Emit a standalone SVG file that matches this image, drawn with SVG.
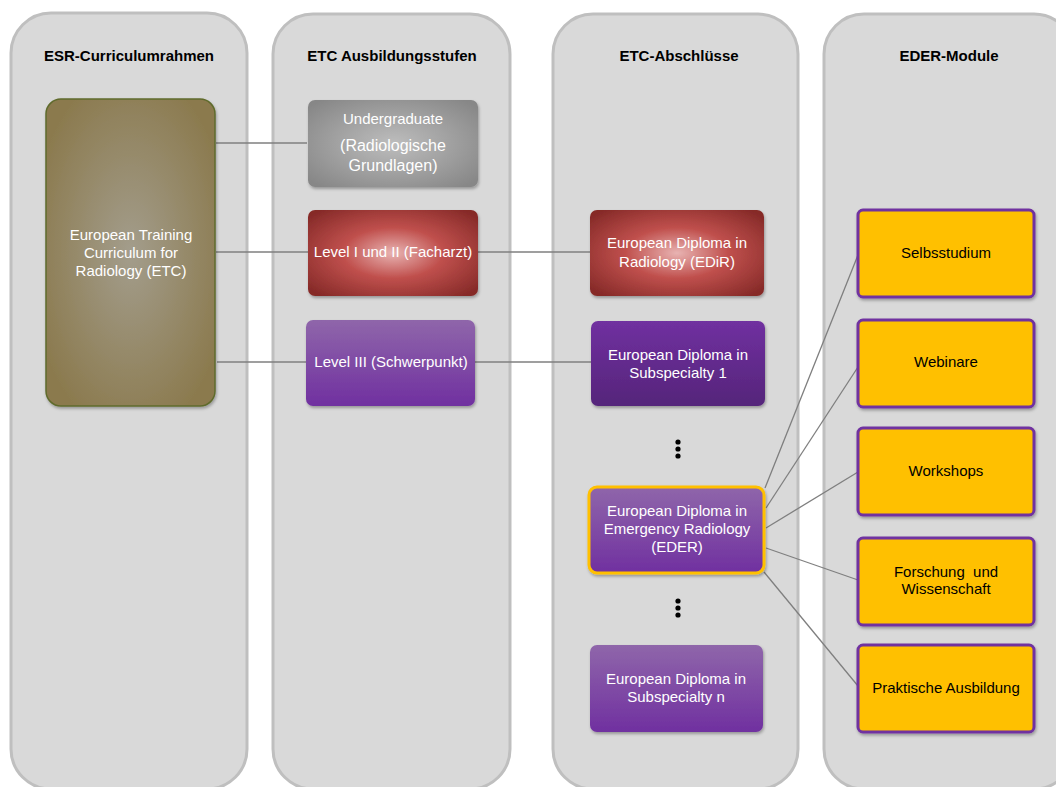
<svg xmlns="http://www.w3.org/2000/svg" width="1056" height="787" viewBox="0 0 1056 787">
<style>
.col{fill:#d9d9d9;stroke:#bfbfbf;stroke-width:3}
.hdr{font-family:"Liberation Sans",Arial,sans-serif;font-weight:bold;font-size:15px;fill:#000;text-anchor:middle}
.wt{font-family:"Liberation Sans",Arial,sans-serif;font-size:15px;fill:#fff;text-anchor:middle}
.bt{font-family:"Liberation Sans",Arial,sans-serif;font-size:15px;fill:#000;text-anchor:middle}
.mod{fill:#ffc000;stroke:#7030a0;stroke-width:3}
.con{stroke:#7f7f7f;stroke-width:1.3;fill:none}
</style>
<defs>
<filter id="sh" x="-10%" y="-10%" width="125%" height="125%">
<feDropShadow dx="1" dy="2" stdDeviation="1.5" flood-color="#000" flood-opacity="0.3"/>
</filter>
<radialGradient id="gOl" cx="0.5" cy="0.5" r="0.6">
<stop offset="0" stop-color="#a39d8c"/>
<stop offset="1" stop-color="#8b7a4e"/>
</radialGradient>
<radialGradient id="gGr" cx="0.5" cy="0.5" r="0.65">
<stop offset="0" stop-color="#bdbdbd"/>
<stop offset="1" stop-color="#878787"/>
</radialGradient>
<radialGradient id="gRd" cx="0.5" cy="0.5" r="0.65">
<stop offset="0" stop-color="#e8b3b2"/>
<stop offset="0.45" stop-color="#c0504d"/>
<stop offset="1" stop-color="#862a28"/>
</radialGradient>
<linearGradient id="gPu" x1="0" y1="0" x2="0" y2="1">
<stop offset="0" stop-color="#8f66aa"/>
<stop offset="1" stop-color="#7030a0"/>
</linearGradient>
<linearGradient id="gPd" x1="0" y1="0" x2="0" y2="1">
<stop offset="0" stop-color="#7030a0"/>
<stop offset="1" stop-color="#55257a"/>
</linearGradient>
</defs>
<rect width="1056" height="787" fill="#fff"/>
<g id="columns">
<rect class="col" x="11" y="13" width="236" height="776" rx="40"/>
<rect class="col" x="273" y="14" width="237" height="775" rx="40"/>
<rect class="col" x="553" y="14" width="245" height="775" rx="40"/>
<rect class="col" x="824" y="14" width="250" height="775" rx="40"/>
<text class="hdr" x="129" y="61">ESR-Curriculumrahmen</text>
<text class="hdr" x="392" y="61">ETC Ausbildungsstufen</text>
<text class="hdr" x="679" y="61">ETC-Abschlüsse</text>
<text class="hdr" x="949" y="61">EDER-Module</text>
</g>
<g id="connectors">
<line class="con" x1="216" y1="143" x2="307" y2="143"/>
<line class="con" x1="216" y1="252" x2="308" y2="252"/>
<line class="con" x1="217" y1="362" x2="306" y2="362"/>
<line class="con" x1="478" y1="252" x2="590" y2="252"/>
<line class="con" x1="475" y1="362" x2="591" y2="362"/>
<line class="con" x1="765" y1="488" x2="858" y2="255"/>
<line class="con" x1="766" y1="508" x2="858" y2="367"/>
<line class="con" x1="766" y1="528" x2="858" y2="472"/>
<line class="con" x1="766" y1="548" x2="858" y2="580"/>
<line class="con" x1="764" y1="572" x2="858" y2="686"/>
</g>
<g id="etc">
<rect x="46" y="99" width="169" height="307" rx="15" fill="url(#gOl)" stroke="#5f6b2c" stroke-width="1.5" filter="url(#sh)"/>
<text class="wt" x="131" y="240">European Training</text>
<text class="wt" x="131" y="258">Curriculum for</text>
<text class="wt" x="131" y="276">Radiology (ETC)</text>
</g>
<g id="undergraduate">
<rect x="308" y="100" width="170" height="87" rx="7" fill="url(#gGr)" filter="url(#sh)"/>
<text class="wt" x="393" y="124" style="font-size:15px">Undergraduate</text>
<text class="wt" x="393" y="151" style="font-size:16px">(Radiologische</text>
<text class="wt" x="393" y="171" style="font-size:16px">Grundlagen)</text>
</g>
<g id="level12">
<rect x="308" y="210" width="170" height="86" rx="7" fill="url(#gRd)" filter="url(#sh)"/>
<text class="wt" x="393" y="257">Level I und II (Facharzt)</text>
</g>
<g id="level3">
<rect x="306" y="320" width="169" height="86" rx="7" fill="url(#gPu)" filter="url(#sh)"/>
<text class="wt" x="391" y="367">Level III (Schwerpunkt)</text>
</g>
<g id="edir">
<rect x="590" y="210" width="174" height="86" rx="7" fill="url(#gRd)" filter="url(#sh)"/>
<text class="wt" x="677" y="248">European Diploma in</text>
<text class="wt" x="677" y="267">Radiology (EDiR)</text>
</g>
<g id="sub1">
<rect x="591" y="321" width="174" height="85" rx="7" fill="url(#gPd)" filter="url(#sh)"/>
<text class="wt" x="678" y="360">European Diploma in</text>
<text class="wt" x="678" y="378">Subspecialty 1</text>
</g>
<g id="dots1" fill="#000">
<circle cx="678" cy="442" r="2.6"/>
<circle cx="678" cy="449" r="2.6"/>
<circle cx="678" cy="456" r="2.6"/>
</g>
<g id="eder">
<rect x="589" y="487" width="175" height="86" rx="8" fill="url(#gPu)" stroke="#ffc000" stroke-width="3" filter="url(#sh)"/>
<text class="wt" x="677" y="516">European Diploma in</text>
<text class="wt" x="677" y="534">Emergency Radiology</text>
<text class="wt" x="677" y="552">(EDER)</text>
</g>
<g id="dots2" fill="#000">
<circle cx="678" cy="601" r="2.6"/>
<circle cx="678" cy="608" r="2.6"/>
<circle cx="678" cy="615" r="2.6"/>
</g>
<g id="subn">
<rect x="590" y="645" width="173" height="87" rx="7" fill="url(#gPu)" filter="url(#sh)"/>
<text class="wt" x="676" y="684">European Diploma in</text>
<text class="wt" x="676" y="702">Subspecialty n</text>
</g>
<g id="selbststudium">
<rect class="mod" x="858" y="210" width="176" height="87" rx="5" filter="url(#sh)"/>
<text class="bt" x="946" y="258">Selbsstudium</text>
</g>
<g id="webinare">
<rect class="mod" x="858" y="320" width="176" height="87" rx="5" filter="url(#sh)"/>
<text class="bt" x="946" y="367">Webinare</text>
</g>
<g id="workshops">
<rect class="mod" x="858" y="428" width="176" height="87" rx="5" filter="url(#sh)"/>
<text class="bt" x="946" y="476">Workshops</text>
</g>
<g id="forschung">
<rect class="mod" x="858" y="538" width="176" height="87" rx="5" filter="url(#sh)"/>
<text class="bt" x="946" y="577" xml:space="preserve">Forschung  und</text>
<text class="bt" x="946" y="594">Wissenschaft</text>
</g>
<g id="praktische">
<rect class="mod" x="858" y="645" width="176" height="87" rx="5" filter="url(#sh)"/>
<text class="bt" x="946" y="693">Praktische Ausbildung</text>
</g>
</svg>
